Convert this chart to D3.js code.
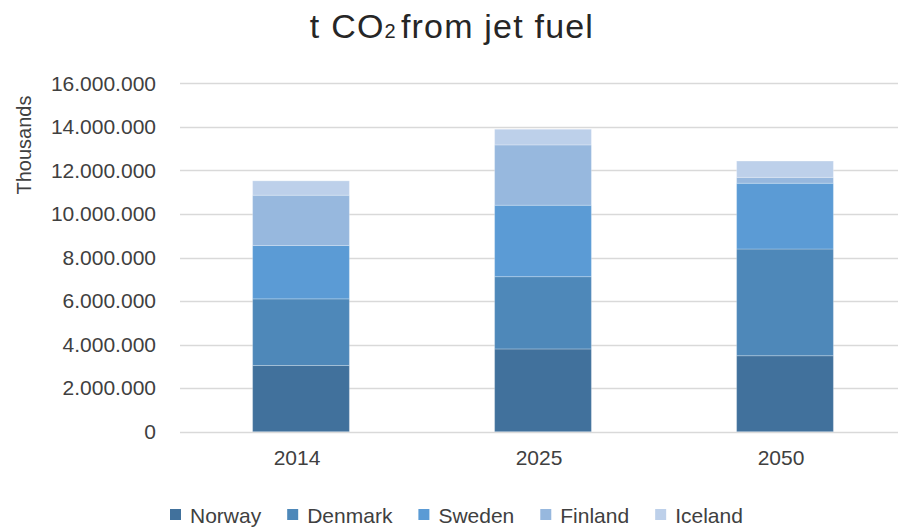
<!DOCTYPE html>
<html>
<head>
<meta charset="utf-8">
<script src="https://cdn.jsdelivr.net/npm/d3@7"></script>
<style>
  html, body { margin: 0; padding: 0; background: #ffffff; }
  svg { display: block; font-family: "Liberation Sans", Arial, sans-serif; }
</style>
</head>
<body>
<svg id="chart" width="898" height="529"></svg>
<script>
const years = ["2014", "2025", "2050"];
const seriesNames = ["Norway", "Denmark", "Sweden", "Finland", "Iceland"];
// values as shown on the axis (unit: thousands)
const norway  = [3040000, 3800000, 3490000];
const denmark = [3060000, 3320000, 4900000];
const sweden  = [2450000, 3280000, 3020000];
const finland = [2310000, 2770000, 270000];
const iceland = [660000, 720000, 750000];
const yTicks = [0, 2000000, 4000000, 6000000, 8000000, 10000000, 12000000, 14000000, 16000000];
const colors = ["#41719c", "#4e88b9", "#5b9bd5", "#97b8de", "#bdd0ea"];

const seriesValues = [norway, denmark, sweden, finland, iceland];
const rows = years.map((yr, i) => {
  const r = { year: yr };
  seriesNames.forEach((s, j) => r[s] = seriesValues[j][i]);
  return r;
});

const svg = d3.select("#chart");
const plotLeft = 180, plotRight = 906, plotTop = 83.3, plotBottom = 431.7;

const x = d3.scaleBand().domain(years).range([plotLeft, plotRight]).padding(0);
const y = d3.scaleLinear().domain([0, 16000000]).range([plotBottom, plotTop]);

const fmt = v => v === 0 ? "0" : d3.format(",")(v).replace(/,/g, ".");

// gridlines
svg.append("g").selectAll("line").data(yTicks).join("line")
  .attr("x1", plotLeft).attr("x2", 898)
  .attr("y1", d => Math.round(y(d)) + 0.5).attr("y2", d => Math.round(y(d)) + 0.5)
  .attr("stroke", "#d9d9d9").attr("stroke-width", 1.3);

// y axis labels
const yAxis = d3.axisLeft(y).tickValues(yTicks).tickFormat(fmt).tickSize(0).tickPadding(0);
const ya = svg.append("g").attr("transform", "translate(156,0)").call(yAxis);
ya.select(".domain").remove();
ya.selectAll("text").attr("font-size", 21).attr("fill", "#404040")
  .attr("font-family", "Liberation Sans, Arial, sans-serif");

// bars
const stack = d3.stack().keys(seriesNames)(rows);
const bw = x.bandwidth() * 0.4;
svg.append("g").selectAll("g").data(stack).join("g")
  .attr("fill", (d, i) => colors[i])
  .selectAll("rect").data(d => d).join("rect")
  .attr("x", d => x(d.data.year) + (x.bandwidth() - bw) / 2)
  .attr("width", bw)
  .attr("y", d => y(d[1]))
  .attr("height", d => y(d[0]) - y(d[1]))
  .attr("stroke", "rgba(255,255,255,0.25)").attr("stroke-width", 1);

// x axis labels
const xAxis = d3.axisBottom(x).tickSize(0).tickPadding(0);
const xa = svg.append("g").attr("transform", "translate(-4,456)").call(xAxis);
xa.select(".domain").remove();
xa.selectAll("text").attr("font-size", 21).attr("fill", "#404040")
  .attr("dy", "0.45em").attr("y", 0)
  .attr("font-family", "Liberation Sans, Arial, sans-serif");

// y axis title
svg.append("text")
  .attr("transform", "translate(31,145) rotate(-90)")
  .attr("text-anchor", "middle")
  .attr("font-size", 20).attr("fill", "#404040")
  .text("Thousands");

// title
const title = svg.append("text")
  .attr("x", 452).attr("y", 38)
  .attr("text-anchor", "middle")
  .attr("font-size", 34).attr("fill", "#262626")
  .attr("letter-spacing", 1.2);
title.append("tspan").text("t CO");
title.append("tspan").attr("font-size", 20).text("2");
title.append("tspan").attr("dx", 4).text("from jet fuel");

// legend
const lg = svg.append("g");
let lx = 170;
seriesNames.forEach((s, i) => {
  lg.append("rect").attr("x", lx).attr("y", 509).attr("width", 11).attr("height", 11)
    .attr("fill", colors[i]);
  const t = lg.append("text").attr("x", lx + 20).attr("y", 515).attr("dy", "0.36em")
    .attr("font-size", 21).attr("fill", "#404040").text(s);
  const w = t.node().getComputedTextLength();
  lx = lx + 20 + w + 26;
});
</script>
</body>
</html>
